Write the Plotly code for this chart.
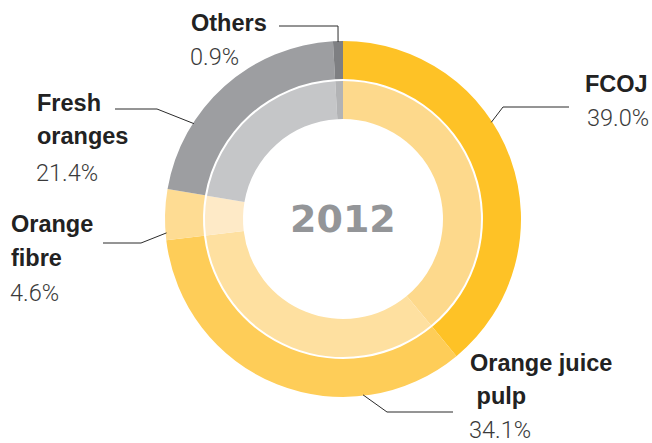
import math
import plotly.graph_objects as go

# Orange product mix, 2012 (share of total, %)
categories = ["FCOJ", "Orange juice pulp", "Orange fibre", "Fresh oranges", "Others"]
shares = [39.0, 34.1, 4.6, 21.4, 0.9]
label_lines = [["FCOJ"], ["Orange juice", " pulp"], ["Orange", "fibre"], ["Fresh", "oranges"], ["Others"]]
center_title = "2012"

outer_colors = ["#FEC226", "#FECD58", "#FEDC93", "#9D9EA1", "#7E7F82"]
inner_colors = ["#FDD98C", "#FEE0A0", "#FEEAC7", "#C5C6C8", "#B2B3B5"]

W, H = 652, 443
CX, CY = 343, 219          # donut centre, pixels from top-left
R_OUT, R_OUT_IN = 178, 140
R_IN, R_IN_IN = 138, 100


def px(x):
    return x / W


def py(y):
    return 1 - y / H


def domain(r):
    return dict(x=[px(CX - r), px(CX + r)], y=[py(CY + r), py(CY - r)])


fig = go.Figure()
for r, r_hole, cols in [(R_OUT, R_OUT_IN, outer_colors), (R_IN, R_IN_IN, inner_colors)]:
    fig.add_trace(go.Pie(
        labels=categories, values=shares, sort=False, direction="clockwise",
        rotation=0, hole=r_hole / r, domain=domain(r),
        marker=dict(colors=cols, line=dict(width=0)),
        textinfo="none", hoverinfo="label+percent", showlegend=False,
    ))

# leader lines: angle on the outer rim (deg clockwise from 12 o'clock), elbow, end
leaders = [
    (56.9, (503, 107), (569, 107)),
    (173.5, (387, 412), (453, 412)),
    (265.5, (141, 243), (103, 243)),
    (302.6, (157, 109), (115, 109)),
    (358.4, (338, 26), (279, 26)),
]
shapes = []
for ang, (ex, ey), (tx, ty) in leaders:
    a = math.radians(ang)
    rx, ry = CX + (R_OUT - 1) * math.sin(a), CY - (R_OUT - 1) * math.cos(a)
    path = f"M {px(rx)} {py(ry)} L {px(ex)} {py(ey)} L {px(tx)} {py(ty)}"
    shapes.append(dict(type="path", xref="paper", yref="paper", path=path,
                       line=dict(color="#2b2b2b", width=1)))

# label placement: anchor x, xanchor, y of each line (titles then value)
placements = [
    (650, "right", [84.5], 118),
    (468, "left", [363, 396], 429.5),
    (9, "left", [223.5, 258], 292.5),
    (35, "left", [103, 136], 173),
    (189, "left", [23.5], 57),
]

bold_font = dict(family="Liberation Sans, Arial, sans-serif", size=23.5, color="#222222", weight="bold")
value_font = dict(family="Roboto, Liberation Sans, sans-serif", size=23.5, color="#3a3a3a", weight=300)

annotations = []
for lines, share, (ax, anchor, ys, vy) in zip(label_lines, shares, placements):
    for text, y in zip(lines, ys):
        annotations.append(dict(text=text, x=px(ax), y=py(y), xref="paper", yref="paper",
                                xanchor=anchor, yanchor="middle", showarrow=False,
                                font=bold_font))
    annotations.append(dict(text=f"{share:.1f}%", x=px(ax), y=py(vy), xref="paper", yref="paper",
                            xanchor=anchor, yanchor="middle", showarrow=False, borderpad=0,
                            font=value_font))

annotations.append(dict(text=center_title, x=px(CX), y=py(CY), xref="paper", yref="paper",
                        xanchor="center", yanchor="middle", showarrow=False,
                        font=dict(family="DejaVu Sans, sans-serif", size=38, color="#939598", weight="bold")))

fig.update_layout(
    width=W, height=H, margin=dict(l=0, r=0, t=0, b=0),
    paper_bgcolor="white", plot_bgcolor="white",
    shapes=shapes, annotations=annotations,
)

fig.write_html("out.html", config={"displayModeBar": False})
